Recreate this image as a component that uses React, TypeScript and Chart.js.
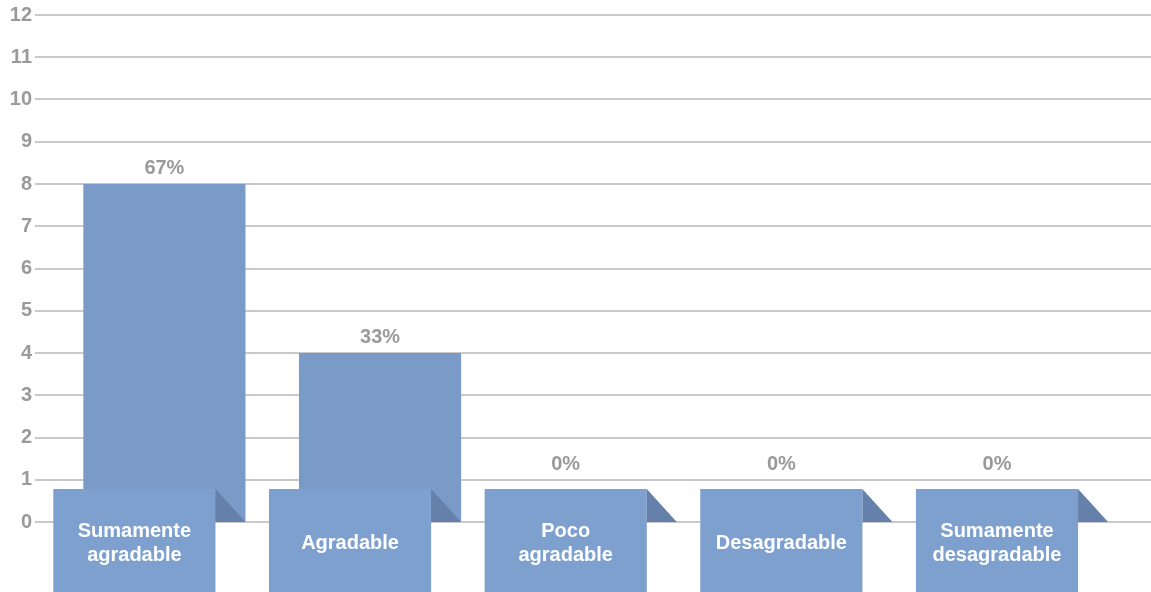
import React, { useEffect, useRef } from "react";
import { Chart, registerables } from "chart.js";

Chart.register(...registerables);

// Survey answers and how many respondents chose each one
const categories: string[][] = [
  ["Sumamente", "agradable"],
  ["Agradable"],
  ["Poco", "agradable"],
  ["Desagradable"],
  ["Sumamente", "desagradable"],
];
const counts: number[] = [8, 4, 0, 0, 0];
const yTicks: number[] = [0, 1, 2, 3, 4, 5, 6, 7, 8, 9, 10, 11, 12];

const BAR = "#7a9ac7";
const TAB = "#7ea0cf";
const FOLD = "#6480ab";
const GRID = "#c9c9c9";
const TEXT = "#9a9a9a";
const FONT = "Arial, 'Liberation Sans', sans-serif";

const TAB_SHIFT = 30; // tab sits this far left of its bar
const TAB_RISE = 33; // tab top above the baseline

const tabsPlugin = {
  id: "tabs",
  afterDatasetsDraw(chart: any) {
    const ctx = chart.ctx;
    const meta = chart.getDatasetMeta(0);
    const yScale = chart.scales.y;
    const base = yScale.getPixelForValue(0);
    const total = counts.reduce((a, b) => a + b, 0);
    ctx.save();
    meta.data.forEach((bar: any, i: number) => {
      const w = bar.width;
      const right = bar.x + w / 2 - TAB_SHIFT;
      const left = right - w;
      const top = base - TAB_RISE;
      // tab body
      ctx.fillStyle = TAB;
      ctx.fillRect(left, top, w, chart.height - top + 10);
      // folded corner
      ctx.fillStyle = FOLD;
      ctx.beginPath();
      ctx.moveTo(right, top);
      ctx.lineTo(right + TAB_SHIFT, base);
      ctx.lineTo(right, base);
      ctx.closePath();
      ctx.fill();
      // category text
      ctx.fillStyle = "#ffffff";
      ctx.font = `bold 20px ${FONT}`;
      ctx.textAlign = "center";
      ctx.textBaseline = "middle";
      const lines = categories[i];
      const lh = 24;
      const cy = base + 21;
      lines.forEach((ln, k) => {
        ctx.fillText(ln, left + w / 2, cy + (k - (lines.length - 1) / 2) * lh);
      });
      // percentage label
      const pct = Math.round((counts[i] / total) * 100) + "%";
      ctx.fillStyle = TEXT;
      const barTop = bar.y;
      let lx: number, ly: number;
      if (barTop < top - 20) {
        lx = bar.x;
        ly = barTop - 16;
      } else {
        lx = left + w / 2;
        ly = top - 25;
      }
      ctx.fillText(pct, lx, ly);
    });
    ctx.restore();
  },
};

export default function App() {
  const ref = useRef<HTMLCanvasElement>(null);
  useEffect(() => {
    if (!ref.current) return;
    const chart = new Chart(ref.current, {
      type: "bar",
      data: {
        datasets: [
          {
            data: counts.map((v, i) => ({ x: i, y: v })),
            backgroundColor: BAR,
            borderWidth: 0,
            categoryPercentage: 1,
            barPercentage: 0.752,
          },
        ],
      },
      options: {
        animation: false,
        responsive: false,
        maintainAspectRatio: false,
        layout: { padding: { top: 10, bottom: 70, left: 0, right: 0 } },
        plugins: { legend: { display: false }, tooltip: { enabled: false } },
        scales: {
          x: {
            type: "linear",
            min: -0.6,
            max: 4.575,
            offset: false,
            display: false,
            afterBuildTicks: (s: any) => {
              s.ticks = counts.map((_, i) => ({ value: i }));
            },
          },
          y: {
            min: 0,
            max: 12,
            afterFit: (s: any) => {
              s.width = 35;
            },
            afterBuildTicks: (s: any) => {
              s.ticks = yTicks.map((v) => ({ value: v }));
            },
            border: { display: false },
            grid: { color: GRID, lineWidth: 2, drawTicks: false },
            ticks: {
              color: TEXT,
              font: { family: FONT, size: 20, weight: "bold" },
              padding: 3,
            },
          },
        },
      },
      plugins: [tabsPlugin],
    } as any);
    return () => chart.destroy();
  }, []);
  return (
    <div style={{ position: "fixed", left: 0, top: 0, width: 1151, height: 592, background: "#fff" }}>
      <canvas ref={ref} width={1151} height={592} style={{ display: "block" }} />
    </div>
  );
}
